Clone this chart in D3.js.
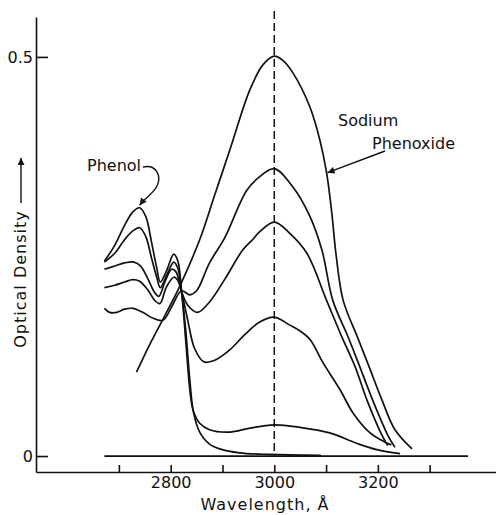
<!DOCTYPE html>
<html>
<head>
<meta charset="utf-8">
<script src="https://cdn.jsdelivr.net/npm/d3@7"></script>
<style>
body { margin: 0; background: #fff; }
svg text { font-family: "DejaVu Sans", sans-serif; fill: #111; }
</style>
</head>
<body>
<div id="chart"></div>
<script>
// [wavelength (A), optical density]
var phenol = [[2672,0.244],[2692,0.264],[2711,0.289],[2727,0.306],[2740,0.311],[2752,0.300],[2763,0.268],[2773,0.236],[2780,0.218],[2792,0.232],[2806,0.253],[2814,0.244],[2821,0.207],[2829,0.158],[2837,0.095],[2844,0.055],[2856,0.030],[2875,0.015],[2895,0.009],[2933,0.004],[2991,0.002],[3090,0.001]];
var mixE = [[2672,0.243],[2692,0.254],[2711,0.271],[2727,0.282],[2740,0.286],[2752,0.275],[2763,0.248],[2773,0.224],[2780,0.211],[2792,0.226],[2806,0.243],[2814,0.235],[2821,0.206],[2829,0.145],[2837,0.083],[2843,0.058],[2856,0.041],[2875,0.033],[2914,0.030],[2953,0.035],[3000,0.039],[3049,0.036],[3107,0.029],[3159,0.016],[3198,0.008],[3243,0.003]];
var mixD = [[2672,0.234],[2692,0.238],[2711,0.242],[2729,0.243],[2742,0.238],[2756,0.222],[2769,0.205],[2777,0.200],[2790,0.220],[2802,0.234],[2810,0.231],[2821,0.206],[2833,0.170],[2846,0.135],[2864,0.118],[2885,0.120],[2914,0.133],[2943,0.152],[2972,0.168],[3000,0.174],[3030,0.164],[3049,0.157],[3069,0.146],[3094,0.117],[3127,0.083],[3152,0.054],[3185,0.029],[3212,0.018],[3226,0.014]];
var mixC = [[2672,0.211],[2692,0.214],[2711,0.218],[2727,0.221],[2740,0.219],[2756,0.208],[2769,0.195],[2779,0.191],[2792,0.212],[2806,0.224],[2814,0.220],[2821,0.206],[2833,0.189],[2852,0.180],[2875,0.193],[2904,0.221],[2939,0.258],[2958,0.271],[2972,0.281],[3000,0.293],[3030,0.279],[3063,0.254],[3101,0.195],[3130,0.150],[3156,0.112],[3179,0.070],[3205,0.030],[3219,0.013]];
var mixB = [[2672,0.185],[2682,0.180],[2696,0.180],[2711,0.184],[2727,0.185],[2746,0.180],[2765,0.173],[2785,0.170],[2802,0.187],[2821,0.207],[2837,0.202],[2850,0.207],[2875,0.242],[2904,0.273],[2947,0.333],[2972,0.350],[3000,0.360],[3036,0.337],[3069,0.300],[3092,0.258],[3113,0.195],[3142,0.150],[3165,0.112],[3190,0.070],[3220,0.025],[3233,0.011]];
var phenoxide = [[2734,0.105],[2759,0.139],[2788,0.175],[2817,0.212],[2856,0.271],[2885,0.327],[2914,0.383],[2953,0.459],[2978,0.490],[3000,0.501],[3016,0.496],[3036,0.480],[3069,0.437],[3088,0.396],[3101,0.355],[3111,0.305],[3119,0.254],[3133,0.195],[3160,0.150],[3183,0.112],[3208,0.070],[3233,0.033],[3266,0.009]];
var zeroLine = [[2672,0],[3374,0]];

var xTicks = [2700, 2800, 2900, 3000, 3100, 3200, 3300];
var xLabels = [2800, 3000, 3200];
var yTicks = [0, 0.5];
var peakWl = 3000;

var svg = d3.select("#chart").append("svg")
  .attr("width", 496)
  .attr("height", 515);

svg.append("rect")
  .attr("width", "100%")
  .attr("height", "100%")
  .attr("fill", "white");

var x = d3.scaleLinear().domain([2540, 3430]).range([36, 497]);
var y = d3.scaleLinear().domain([-0.02, 0.55]).range([472, 17]);

var defs = svg.append("defs");
defs.append("marker")
  .attr("id", "head")
  .attr("viewBox", "0 0 10 10")
  .attr("refX", 10)
  .attr("refY", 5)
  .attr("markerWidth", 9)
  .attr("markerHeight", 7)
  .attr("markerUnits", "userSpaceOnUse")
  .attr("orient", "auto")
  .append("path")
  .attr("d", "M0,0 L10,5 L0,10 Z")
  .attr("fill", "#111");

//-------------------------------- axes

svg.append("g")
  .attr("transform", "translate(0,472)")
  .call(d3.axisBottom(x)
    .tickValues(xTicks)
    .tickSize(-7)
    .tickSizeOuter(0)
    .tickPadding(5)
    .tickFormat(function (d) {
      return xLabels.indexOf(d) >= 0 ? d : "";
    }));

svg.append("g")
  .attr("transform", "translate(36,0)")
  .call(d3.axisLeft(y)
    .tickValues(yTicks)
    .tickSize(-12)
    .tickSizeOuter(0)
    .tickPadding(3)
    .tickFormat(function (d) {
      return d === 0 ? "0" : "0.5";
    }));

svg.selectAll(".domain, .tick line")
  .attr("stroke", "#111")
  .attr("stroke-width", 1.6);
svg.selectAll(".tick text")
  .attr("font-size", 16)
  .attr("font-family", "DejaVu Sans, sans-serif")
  .attr("fill", "#111");

// dashed line through the phenoxide maximum
svg.append("line")
  .attr("x1", x(peakWl))
  .attr("x2", x(peakWl))
  .attr("y1", 11)
  .attr("y2", y(0))
  .attr("stroke", "#111")
  .attr("stroke-width", 1.5)
  .attr("stroke-dasharray", "8,4");

//-------------------------------- curves

var line = d3.line()
  .x(function (d) { return x(d[0]); })
  .y(function (d) { return y(d[1]); })
  .curve(d3.curveCatmullRom.alpha(0.5));

var series = [zeroLine, phenol, mixE, mixD, mixC, mixB, phenoxide];

svg.append("g").selectAll("path")
  .data(series)
  .enter().append("path")
  .attr("d", line)
  .attr("fill", "none")
  .attr("stroke", "#111")
  .attr("stroke-width", 1.7)
  .attr("stroke-linejoin", "round");

//-------------------------------- labels

svg.append("text")
  .attr("x", 87)
  .attr("y", 171)
  .attr("font-size", 16)
  .text("Phenol");

var tip1 = [x(2742) - 1, y(0.313) - 1];
svg.append("path")
  .attr("d", "M143,167 C156,164 162,176 157,186 C153,194 " + (tip1[0] + 6) + "," + (tip1[1] - 8) + " " + tip1[0] + "," + tip1[1])
  .attr("fill", "none")
  .attr("stroke", "#111")
  .attr("stroke-width", 1.4)
  .attr("marker-end", "url(#head)");

svg.append("text")
  .attr("x", 338)
  .attr("y", 126)
  .attr("font-size", 16)
  .text("Sodium");
svg.append("text")
  .attr("x", 372)
  .attr("y", 149)
  .attr("font-size", 16)
  .text("Phenoxide");

var tip2 = [x(3101) + 1, y(0.355)];
svg.append("line")
  .attr("x1", 385)
  .attr("y1", 151)
  .attr("x2", tip2[0])
  .attr("y2", tip2[1])
  .attr("stroke", "#111")
  .attr("stroke-width", 1.4)
  .attr("marker-end", "url(#head)");

svg.append("text")
  .attr("transform", "translate(26,279) rotate(-90)")
  .attr("text-anchor", "middle")
  .attr("font-size", 16)
  .attr("letter-spacing", 1)
  .text("Optical Density");

svg.append("line")
  .attr("x1", 21)
  .attr("y1", 203)
  .attr("x2", 21)
  .attr("y2", 158)
  .attr("stroke", "#111")
  .attr("stroke-width", 1.4)
  .attr("marker-end", "url(#head)");

svg.append("text")
  .attr("x", 265)
  .attr("y", 510)
  .attr("text-anchor", "middle")
  .attr("font-size", 16)
  .attr("letter-spacing", 1)
  .text("Wavelength, Å");
</script>
</body>
</html>
